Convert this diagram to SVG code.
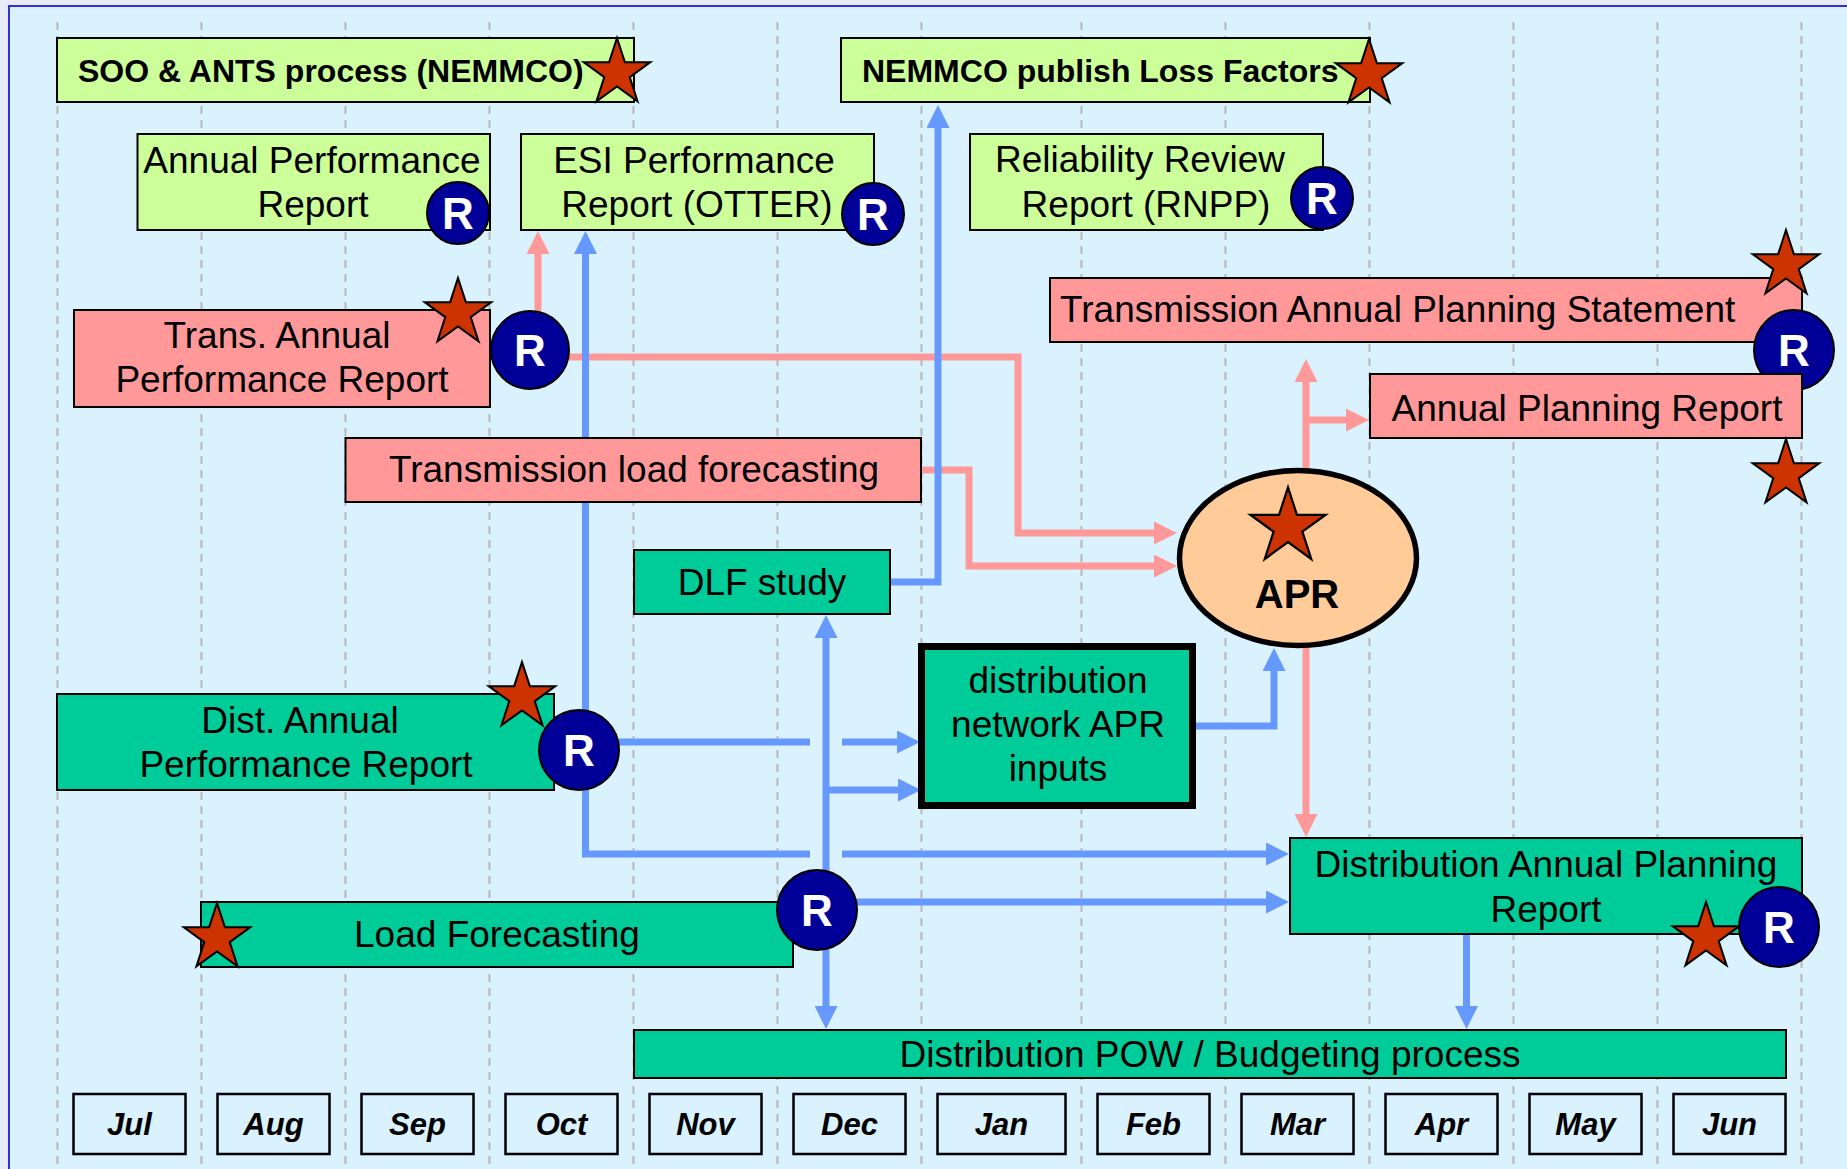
<svg xmlns="http://www.w3.org/2000/svg" xmlns:xlink="http://www.w3.org/1999/xlink" width="1847" height="1169" viewBox="0 0 1847 1169">
<style>
.bx{stroke:#000;stroke-width:2}
.lg{fill:#CCFF99}
.pk{fill:#FF9999}
.gr{fill:#00CC99}
.t{font-family:'Liberation Sans',Arial,sans-serif;font-size:37px;fill:#000;text-anchor:middle}
.tb{font-family:'Liberation Sans',Arial,sans-serif;font-size:32px;font-weight:bold;fill:#000}
.rc{fill:#000099;stroke:#000;stroke-width:2}
.rt{font-family:'Liberation Sans',Arial,sans-serif;font-size:44px;font-weight:bold;fill:#fff;text-anchor:middle}
.st{fill:#CC3300;stroke:#000;stroke-width:2;stroke-linejoin:miter}
.bl{stroke:#6699FF;stroke-width:7;fill:none}
.pl{stroke:#FF9999;stroke-width:7;fill:none}
.dash{stroke:#B8B8B8;stroke-width:2;stroke-dasharray:8 6}
.mo{fill:none;stroke:#000;stroke-width:2.5}
.mt{font-family:'Liberation Sans',Arial,sans-serif;font-size:31px;font-weight:bold;font-style:italic;fill:#000;text-anchor:middle}
</style>
<defs>
<polygon id="star" points="0,-35 7.86,-10.82 33.29,-10.82 12.72,4.13 20.57,28.32 0,13.37 -20.57,28.32 -12.72,4.13 -33.29,-10.82 -7.86,-10.82"/>
<marker id="ab" viewBox="0 0 23 23" refX="1" refY="11.5" markerWidth="23" markerHeight="23" markerUnits="userSpaceOnUse" orient="auto">
<path d="M0,0 L23,11.5 L0,23 Z" fill="#6699FF"/>
</marker>
<marker id="ap" viewBox="0 0 23 23" refX="1" refY="11.5" markerWidth="23" markerHeight="23" markerUnits="userSpaceOnUse" orient="auto">
<path d="M0,0 L23,11.5 L0,23 Z" fill="#FF9999"/>
</marker>
</defs>
<rect x="0" y="0" width="1847" height="1169" fill="#E8ECF8"/>
<rect x="9" y="6" width="1850" height="1170" fill="#DAF2FE" stroke="#3333CC" stroke-width="2"/>
<g id="gridlines">
<line class="dash" x1="57.5" y1="22" x2="57.5" y2="1165"/>
<line class="dash" x1="201.5" y1="22" x2="201.5" y2="1165"/>
<line class="dash" x1="345.5" y1="22" x2="345.5" y2="1165"/>
<line class="dash" x1="489.5" y1="22" x2="489.5" y2="1165"/>
<line class="dash" x1="633.5" y1="22" x2="633.5" y2="1165"/>
<line class="dash" x1="777.5" y1="22" x2="777.5" y2="1165"/>
<line class="dash" x1="921.5" y1="22" x2="921.5" y2="1165"/>
<line class="dash" x1="1081.5" y1="22" x2="1081.5" y2="1165"/>
<line class="dash" x1="1225.5" y1="22" x2="1225.5" y2="1165"/>
<line class="dash" x1="1369.5" y1="22" x2="1369.5" y2="1165"/>
<line class="dash" x1="1513.5" y1="22" x2="1513.5" y2="1165"/>
<line class="dash" x1="1657.5" y1="22" x2="1657.5" y2="1165"/>
<line class="dash" x1="1801.5" y1="22" x2="1801.5" y2="1165"/>
</g>
<g id="connectors">
<path class="pl" d="M538,318 V253" marker-end="url(#ap)"/>
<path class="pl" d="M569,357 H1018 V533 H1155" marker-end="url(#ap)"/>
<path class="pl" d="M921,470 H969 V566 H1155" marker-end="url(#ap)"/>
<path class="pl" d="M1306,490 V381" marker-end="url(#ap)"/>
<path class="pl" d="M1306,420 H1347" marker-end="url(#ap)"/>
<path class="pl" d="M1306,640 V815" marker-end="url(#ap)"/>
<path class="bl" d="M585.5,750 V253" marker-end="url(#ab)"/>
<path class="bl" d="M585.5,750 V854 H810"/>
<path class="bl" d="M842,854 H1267" marker-end="url(#ab)"/>
<path class="bl" d="M600,742 H810"/>
<path class="bl" d="M842,742 H898" marker-end="url(#ab)"/>
<path class="bl" d="M826,880 V637" marker-end="url(#ab)"/>
<path class="bl" d="M826,940 V1007" marker-end="url(#ab)"/>
<path class="bl" d="M826,790 H899" marker-end="url(#ab)"/>
<path class="bl" d="M840,902 H1267" marker-end="url(#ab)"/>
<path class="bl" d="M890,582 H938 V127" marker-end="url(#ab)"/>
<path class="bl" d="M1196,726 H1274 V670" marker-end="url(#ab)"/>
<path class="bl" d="M1466.5,934 V1007" marker-end="url(#ab)"/>
</g>
<g id="soo">
<rect class="bx lg" x="57" y="38" width="577" height="64"/>
<text class="tb" x="78" y="82">SOO &amp; ANTS process (NEMMCO)</text>
<use xlink:href="#star" class="st" x="617" y="73"/>
</g>
<g id="nemmco">
<rect class="bx lg" x="841" y="38" width="529" height="64"/>
<text class="tb" x="862" y="82">NEMMCO publish Loss Factors</text>
<use xlink:href="#star" class="st" x="1369" y="74"/>
</g>
<g id="annual-performance">
<rect class="bx lg" x="137.5" y="134" width="352.5" height="96"/>
<text class="t" x="312" y="173">Annual Performance</text>
<text class="t" x="313" y="217">Report</text>
<circle class="rc" cx="458" cy="213" r="31"/>
<text class="rt" x="458" y="229">R</text>
</g>
<g id="esi-performance">
<rect class="bx lg" x="521" y="134" width="353" height="96"/>
<text class="t" x="694" y="173">ESI Performance</text>
<text class="t" x="697" y="217">Report (OTTER)</text>
<circle class="rc" cx="873" cy="214" r="31"/>
<text class="rt" x="873" y="230">R</text>
</g>
<g id="reliability-review">
<rect class="bx lg" x="970" y="134" width="353" height="96"/>
<text class="t" x="1140" y="172">Reliability Review</text>
<text class="t" x="1146" y="217">Report (RNPP)</text>
<circle class="rc" cx="1322" cy="198" r="31"/>
<text class="rt" x="1322" y="214">R</text>
</g>
<g id="trans-annual-performance">
<rect class="bx pk" x="74" y="310" width="416" height="97"/>
<text class="t" x="277" y="348">Trans. Annual</text>
<text class="t" x="282" y="392">Performance Report</text>
<use xlink:href="#star" class="st" x="458" y="313"/>
<circle class="rc" cx="530" cy="350" r="39"/>
<text class="rt" x="530" y="366">R</text>
</g>
<g id="trans-annual-planning">
<rect class="bx pk" x="1050" y="278" width="752" height="64"/>
<text class="t" x="1060" y="322" style="text-anchor:start">Transmission Annual Planning Statement</text>
<use xlink:href="#star" class="st" x="1786" y="265"/>
<circle class="rc" cx="1794" cy="350" r="40"/>
<text class="rt" x="1794" y="366">R</text>
</g>
<g id="annual-planning-report">
<rect class="bx pk" x="1370" y="374" width="432" height="64"/>
<text class="t" x="1587" y="421">Annual Planning Report</text>
<use xlink:href="#star" class="st" x="1786" y="474"/>
</g>
<g id="trans-load-forecasting">
<rect class="bx pk" x="345.5" y="438" width="575.5" height="64"/>
<text class="t" x="634" y="482">Transmission load forecasting</text>
</g>
<g id="dlf-study">
<rect class="bx gr" x="634" y="550" width="256" height="64"/>
<text class="t" x="762" y="595">DLF study</text>
</g>
<g id="apr">
<ellipse cx="1298" cy="558" rx="118.5" ry="87.5" fill="#FFCC99" stroke="#000" stroke-width="5.5"/>
<use xlink:href="#star" class="st" transform="translate(1288,527) scale(1.13)"/>
<text x="1297" y="608" style="font-family:'Liberation Sans',Arial,sans-serif;font-size:40px;font-weight:bold;text-anchor:middle">APR</text>
</g>
<g id="network-apr-inputs">
<rect x="921.5" y="646.5" width="271" height="159" fill="#00CC99" stroke="#000" stroke-width="7"/>
<text class="t" x="1058" y="693">distribution</text>
<text class="t" x="1058" y="737">network APR</text>
<text class="t" x="1058" y="781">inputs</text>
</g>
<g id="dist-annual-performance">
<rect class="bx gr" x="57" y="694" width="497" height="96"/>
<text class="t" x="300" y="733">Dist. Annual</text>
<text class="t" x="306" y="777">Performance Report</text>
<use xlink:href="#star" class="st" x="522" y="697"/>
<circle class="rc" cx="579" cy="750" r="40"/>
<text class="rt" x="579" y="766">R</text>
</g>
<g id="load-forecasting">
<rect class="bx gr" x="201" y="902" width="592" height="65"/>
<text class="t" x="497" y="947">Load Forecasting</text>
<use xlink:href="#star" class="st" x="217" y="938"/>
<circle class="rc" cx="817" cy="910" r="40"/>
<text class="rt" x="817" y="926">R</text>
</g>
<g id="dist-annual-planning">
<rect class="bx gr" x="1290" y="838" width="512" height="96"/>
<text class="t" x="1546" y="877">Distribution Annual Planning</text>
<text class="t" x="1546" y="922">Report</text>
<use xlink:href="#star" class="st" x="1706" y="937"/>
<circle class="rc" cx="1779" cy="927" r="40"/>
<text class="rt" x="1779" y="943">R</text>
</g>
<g id="pow-budgeting">
<rect class="bx gr" x="634" y="1030" width="1152" height="48"/>
<text class="t" x="1210" y="1067">Distribution POW / Budgeting process</text>
</g>
<g id="months">
<rect class="mo" x="73.5" y="1094" width="112" height="60"/><text class="mt" x="129.5" y="1135">Jul</text>
<rect class="mo" x="217.5" y="1094" width="112" height="60"/><text class="mt" x="273.5" y="1135">Aug</text>
<rect class="mo" x="361.5" y="1094" width="112" height="60"/><text class="mt" x="417.5" y="1135">Sep</text>
<rect class="mo" x="505.5" y="1094" width="112" height="60"/><text class="mt" x="561.5" y="1135">Oct</text>
<rect class="mo" x="649.5" y="1094" width="112" height="60"/><text class="mt" x="705.5" y="1135">Nov</text>
<rect class="mo" x="793.5" y="1094" width="112" height="60"/><text class="mt" x="849.5" y="1135">Dec</text>
<rect class="mo" x="937.5" y="1094" width="128" height="60"/><text class="mt" x="1001.5" y="1135">Jan</text>
<rect class="mo" x="1097.5" y="1094" width="112" height="60"/><text class="mt" x="1153.5" y="1135">Feb</text>
<rect class="mo" x="1241.5" y="1094" width="112" height="60"/><text class="mt" x="1297.5" y="1135">Mar</text>
<rect class="mo" x="1385.5" y="1094" width="112" height="60"/><text class="mt" x="1441.5" y="1135">Apr</text>
<rect class="mo" x="1529.5" y="1094" width="112" height="60"/><text class="mt" x="1585.5" y="1135">May</text>
<rect class="mo" x="1673.5" y="1094" width="112" height="60"/><text class="mt" x="1729.5" y="1135">Jun</text>
</g>
</svg>
